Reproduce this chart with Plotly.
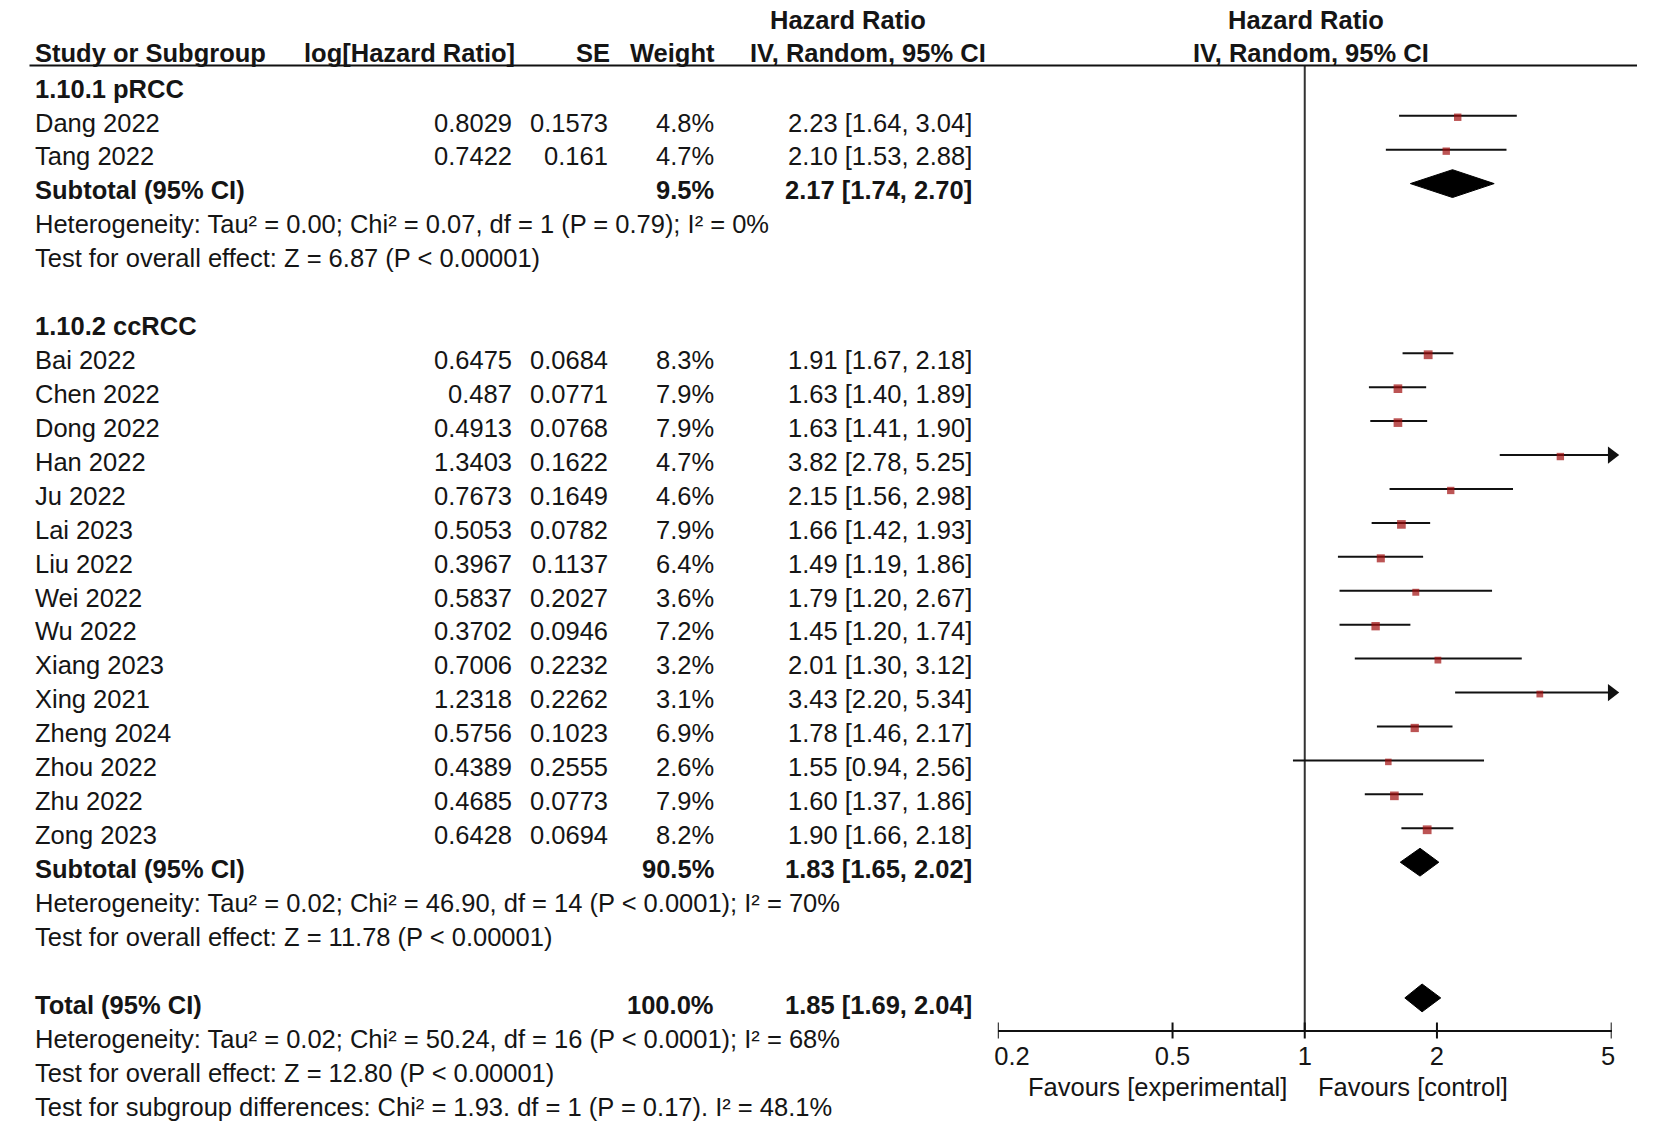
import math
import plotly.graph_objects as go

W, H = 1654, 1144
FONT = "Liberation Sans, Arial, Helvetica, sans-serif"
FS = 25.5
TXT = "#151515"
LINE = "#111111"
SQ = "#a00c0c"

# ---------------- data ----------------
g1_label = "1.10.1 pRCC"
g1_studies = ["Dang 2022", "Tang 2022"]
g1_loghr = [0.8029, 0.7422]
g1_se = [0.1573, 0.161]
g1_weight = [4.8, 4.7]
g1_hr = [2.23, 2.10]
g1_lo = [1.64, 1.53]
g1_hi = [3.04, 2.88]
g1_sub = [9.5, 2.17, 1.74, 2.70]  # weight, HR, lower, upper
g1_het = "Heterogeneity: Tau² = 0.00; Chi² = 0.07, df = 1 (P = 0.79); I² = 0%"
g1_test = "Test for overall effect: Z = 6.87 (P < 0.00001)"

g2_label = "1.10.2 ccRCC"
g2_studies = ["Bai 2022", "Chen 2022", "Dong 2022", "Han 2022", "Ju 2022", "Lai 2023",
              "Liu 2022", "Wei 2022", "Wu 2022", "Xiang 2023", "Xing 2021", "Zheng 2024",
              "Zhou 2022", "Zhu 2022", "Zong 2023"]
g2_loghr = [0.6475, 0.487, 0.4913, 1.3403, 0.7673, 0.5053, 0.3967, 0.5837, 0.3702,
            0.7006, 1.2318, 0.5756, 0.4389, 0.4685, 0.6428]
g2_se = [0.0684, 0.0771, 0.0768, 0.1622, 0.1649, 0.0782, 0.1137, 0.2027, 0.0946,
         0.2232, 0.2262, 0.1023, 0.2555, 0.0773, 0.0694]
g2_weight = [8.3, 7.9, 7.9, 4.7, 4.6, 7.9, 6.4, 3.6, 7.2, 3.2, 3.1, 6.9, 2.6, 7.9, 8.2]
g2_hr = [1.91, 1.63, 1.63, 3.82, 2.15, 1.66, 1.49, 1.79, 1.45, 2.01, 3.43, 1.78, 1.55, 1.60, 1.90]
g2_lo = [1.67, 1.40, 1.41, 2.78, 1.56, 1.42, 1.19, 1.20, 1.20, 1.30, 2.20, 1.46, 0.94, 1.37, 1.66]
g2_hi = [2.18, 1.89, 1.90, 5.25, 2.98, 1.93, 1.86, 2.67, 1.74, 3.12, 5.34, 2.17, 2.56, 1.86, 2.18]
g2_sub = [90.5, 1.83, 1.65, 2.02]
g2_het = "Heterogeneity: Tau² = 0.02; Chi² = 46.90, df = 14 (P < 0.0001); I² = 70%"
g2_test = "Test for overall effect: Z = 11.78 (P < 0.00001)"

total = [100.0, 1.85, 1.69, 2.04]
total_notes = [
    "Heterogeneity: Tau² = 0.02; Chi² = 50.24, df = 16 (P < 0.0001); I² = 68%",
    "Test for overall effect: Z = 12.80 (P < 0.00001)",
    "Test for subgroup differences: Chi² = 1.93. df = 1 (P = 0.17). I² = 48.1%",
]

tick_vals = [0.2, 0.5, 1, 2, 5]
tick_text = ["0.2", "0.5", "1", "2", "5"]
fav_left = "Favours [experimental]"
fav_right = "Favours [control]"

# ---------------- geometry ----------------
ROW0, ROWH = 88.6, 33.93          # px of row 0 centre, px per row


def rrow(px):
    return (px - ROW0) / ROWH


Y_TOP, Y_BOT = rrow(0), rrow(H)
MOFF = -0.2                        # forest marks sit slightly above text centre
SQOFF = 1.5 / ROWH                 # squares sit a hair below their CI line
AX_ROW = rrow(1030.5)
HDR_ROW = rrow(65.4)
X_MIN, X_MAX = min(tick_vals), max(tick_vals)

STUDY_X, LOG_X, SE_X, W_X, CI_X = 32.7, 513.7, 609.7, 716.2, 973.6

annotations = []


def txt(x_px, row, s, anchor="left", bold=False, size=FS):
    annotations.append(dict(
        x=x_px / W, xref="paper", y=row, yref="y",
        text=f"<b>{s}</b>" if bold else s, showarrow=False,
        xanchor=anchor, yanchor="middle",
        font=dict(family=FONT, size=size, color=TXT)))


def fmt_num(v):
    return f"{v:.4f}".rstrip("0").rstrip(".")


def fmt_ci(h, l, u):
    return f"{h:.2f} [{l:.2f}, {u:.2f}]"


fig = go.Figure()

# headers
txt(847.5, rrow(20), "Hazard Ratio", "center", True)
txt(1306, rrow(20), "Hazard Ratio", "center", True)
hr_row = rrow(52.7)
txt(STUDY_X, hr_row, "Study or Subgroup", "left", True)
txt(517, hr_row, "log[Hazard Ratio]", "right", True)
txt(612, hr_row, "SE", "right", True)
txt(717, hr_row, "Weight", "right", True)
txt(867.6, hr_row, "IV, Random, 95% CI", "center", True)
txt(1311, hr_row, "IV, Random, 95% CI", "center", True)

ci_x, ci_y = [], []
sq_x, sq_y, sq_s = [], [], []
ar_x, ar_y = [], []

groups = [
    (g1_label, g1_studies, g1_loghr, g1_se, g1_weight, g1_hr, g1_lo, g1_hi, g1_sub, g1_het, g1_test),
    (g2_label, g2_studies, g2_loghr, g2_se, g2_weight, g2_hr, g2_lo, g2_hi, g2_sub, g2_het, g2_test),
]


def diamond(row, h, l, u):
    hh = 0.41
    y0 = row + MOFF
    fig.add_trace(go.Scatter(
        x=[l, h, u, h, l], y=[y0, y0 - hh, y0, y0 + hh, y0],
        mode="lines", fill="toself", fillcolor="black",
        line=dict(color="black", width=1), hoverinfo="skip"))


row = 0
for (lab, st, lg, se, wt, hr, lo, hi, sub, het, test) in groups:
    txt(STUDY_X, row, lab, "left", True)
    row += 1
    for i in range(len(st)):
        txt(STUDY_X, row, st[i])
        txt(LOG_X, row, fmt_num(lg[i]), "right")
        txt(SE_X, row, fmt_num(se[i]), "right")
        txt(W_X, row, f"{wt[i]:.1f}%", "right")
        txt(CI_X, row, fmt_ci(hr[i], lo[i], hi[i]), "right")
        y = row + MOFF
        ci_x += [max(lo[i], X_MIN), min(hi[i], X_MAX), None]
        ci_y += [y, y, None]
        sq_x.append(hr[i])
        sq_y.append(y + SQOFF)
        sq_s.append(5.5 + 0.4 * wt[i])
        if hi[i] > X_MAX:
            ar_x.append(X_MAX)
            ar_y.append(y)
        row += 1
    txt(STUDY_X, row, "Subtotal (95% CI)", "left", True)
    txt(W_X, row, f"{sub[0]:.1f}%", "right", True)
    txt(CI_X, row, fmt_ci(sub[1], sub[2], sub[3]), "right", True)
    diamond(row, sub[1], sub[2], sub[3])
    row += 1
    txt(STUDY_X, row, het)
    row += 1
    txt(STUDY_X, row, test)
    row += 2

txt(STUDY_X, row, "Total (95% CI)", "left", True)
txt(W_X, row, f"{total[0]:.1f}%", "right", True)
txt(CI_X, row, fmt_ci(total[1], total[2], total[3]), "right", True)
diamond(row, total[1], total[2], total[3])
row += 1
for note in total_notes:
    txt(STUDY_X, row, note)
    row += 1

# favours labels
fav_row = rrow(1086.5)
txt(1289, fav_row, fav_left, "right", False, FS)
txt(1316, fav_row, fav_right, "left", False, FS)

# vertical line of no effect
fig.add_trace(go.Scatter(x=[1, 1], y=[HDR_ROW, AX_ROW], mode="lines",
                         line=dict(color="#333333", width=2), hoverinfo="skip"))

# CI lines
fig.add_trace(go.Scatter(x=ci_x, y=ci_y, mode="lines",
                         line=dict(color=LINE, width=2), hoverinfo="skip"))
# squares
fig.add_trace(go.Scatter(x=sq_x, y=sq_y, mode="markers", cliponaxis=False,
                         marker=dict(symbol="square", size=sq_s, color=SQ,
                                     line=dict(width=0)), hoverinfo="skip"))
# arrows
fig.add_trace(go.Scatter(x=ar_x, y=ar_y, mode="markers", cliponaxis=False,
                         marker=dict(symbol="triangle-right", size=15, color=LINE,
                                     line=dict(width=0)), hoverinfo="skip"))

# tick marks crossing the axis line
tk_x, tk_y = [], []
for v in tick_vals:
    tk_x += [v, v, None]
    tk_y += [AX_ROW + 8 / ROWH, AX_ROW - 8 / ROWH, None]
fig.add_trace(go.Scatter(x=tk_x, y=tk_y, mode="lines", cliponaxis=False,
                         line=dict(color=LINE, width=2), hoverinfo="skip"))

# end labels are nudged inward as in the original
NB = "\u00a0"
tick_lbls = list(tick_text)
tick_lbls[0] = NB * 4 + tick_lbls[0]
tick_lbls[-1] = tick_lbls[-1] + NB

# header rule
shapes = [dict(type="line", xref="paper", yref="y", x0=29.5 / W, x1=1637 / W,
               y0=HDR_ROW, y1=HDR_ROW, line=dict(color=LINE, width=2))]

fig.update_layout(
    width=W, height=H,
    margin=dict(l=0, r=0, t=0, b=0, pad=0, autoexpand=False),
    paper_bgcolor="white", plot_bgcolor="white", showlegend=False,
    annotations=annotations, shapes=shapes,
    xaxis=dict(type="log", domain=[997.8 / W, 1611.7 / W],
               range=[math.log10(X_MIN), math.log10(X_MAX)],
               anchor="free", position=1 - 1030.5 / H, automargin=False,
               showline=True, linecolor=LINE, linewidth=2,
               ticks="outside", ticklen=3, tickwidth=1, tickcolor="rgba(0,0,0,0)",
               tickvals=tick_vals, ticktext=tick_lbls,
               tickfont=dict(family=FONT, size=FS, color=TXT),
               showgrid=False, zeroline=False, fixedrange=True),
    yaxis=dict(range=[Y_BOT, Y_TOP], domain=[0, 1], visible=False,
               showgrid=False, zeroline=False, fixedrange=True),
)

fig.write_html("out.html", config={"displayModeBar": False},
               post_script="document.body.style.margin='0';")
